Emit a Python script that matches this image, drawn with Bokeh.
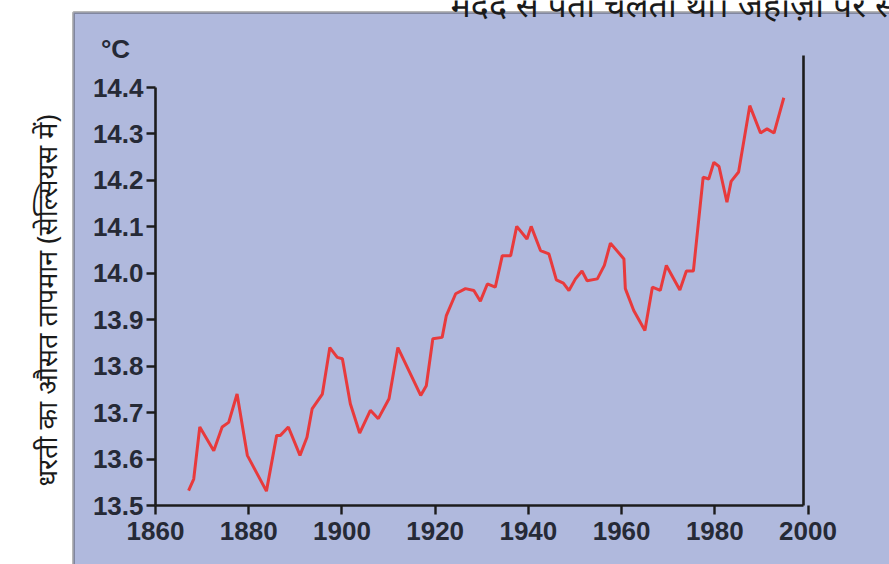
import math
from bokeh.plotting import figure
from bokeh.models import (LinearAxis, FixedTicker, PrintfTickFormatter, Range1d,
                          BoxAnnotation, Label)
from bokeh.embed import file_html
from bokeh.resources import INLINE

# ---------------- data ----------------
years = [1867.1, 1868.2, 1869.5, 1872.5, 1874.3, 1875.7, 1877.5, 1879.7, 1883.8, 1886.0,
         1886.8, 1888.5, 1891.0, 1892.5, 1893.6, 1895.8, 1897.4, 1899.0, 1900.1, 1901.8,
         1903.8, 1906.1, 1907.8, 1910.1, 1912.0, 1916.9, 1918.1, 1919.5, 1921.5, 1922.4,
         1924.4, 1926.5, 1928.3, 1929.7, 1931.2, 1932.9, 1934.4, 1936.2, 1937.5, 1939.7,
         1940.6, 1942.6, 1944.4, 1946.0, 1947.5, 1948.7, 1950.1, 1951.5, 1952.6, 1954.8,
         1956.3, 1957.6, 1960.5, 1960.8, 1962.6, 1965.0, 1966.6, 1968.3, 1969.6, 1972.5,
         1973.9, 1975.4, 1977.5, 1978.7, 1979.8, 1980.9, 1982.6, 1983.5, 1985.1, 1987.5,
         1989.8, 1991.2, 1992.7, 1994.8]
temps = [13.532, 13.557, 13.669, 13.618, 13.669, 13.679, 13.740, 13.608, 13.531, 13.651,
         13.651, 13.669, 13.608, 13.647, 13.708, 13.740, 13.840, 13.819, 13.816, 13.719,
         13.656, 13.705, 13.687, 13.730, 13.840, 13.737, 13.758, 13.859, 13.862, 13.909,
         13.956, 13.967, 13.963, 13.940, 13.977, 13.970, 14.038, 14.038, 14.101, 14.074,
         14.101, 14.049, 14.042, 13.986, 13.979, 13.963, 13.988, 14.005, 13.984, 13.988,
         14.017, 14.065, 14.031, 13.967, 13.920, 13.877, 13.970, 13.963, 14.017, 13.964,
         14.005, 14.005, 14.207, 14.203, 14.239, 14.230, 14.153, 14.198, 14.218, 14.361,
         14.302, 14.311, 14.302, 14.378]
x_ticks = [1860, 1880, 1900, 1920, 1940, 1960, 1980, 2000]
y_ticks = [13.5, 13.6, 13.7, 13.8, 13.9, 14.0, 14.1, 14.2, 14.3, 14.4]
x_axis_span = (1860, 1999)
y_axis_span = (13.5, 14.4)
y_right_span = (13.5, 14.469)
unit_label = "°C"
y_title = "धरती का औसत तापमान (सेल्सियस में)"
top_text = "मदद से पता चलता था। जहाज़ों पर स"

# ---------------- style ----------------
PANEL = "#b0b9dd"
AXIS = "#1c1c1c"
LABEL = "#262a36"
LINE = "#e83a3c"
FONT = "Liberation Sans"
HFONT = "Noto Sans"

W, H = 889, 564
# data area in canvas pixels: 1860 -> x=155, 13.5 -> y=505
PX_YR = 4.661
PX_DEG = 464.4
X0, Y0 = 155, 505
x_range = Range1d(1860 - X0 / PX_YR, 1860 + (W - X0) / PX_YR)
y_range = Range1d(13.5 - (H - Y0) / PX_DEG, 13.5 + Y0 / PX_DEG)

p = figure(width=W, height=H, output_backend="svg", toolbar_location=None,
           x_range=x_range, y_range=y_range,
           x_axis_location=None, y_axis_location=None,
           min_border=0, min_border_left=0, min_border_right=0,
           min_border_top=0, min_border_bottom=0)
p.border_fill_color = "white"
p.background_fill_color = "white"
p.outline_line_color = None
p.grid.visible = False

# lavender panel with black top/left border
panel = BoxAnnotation(left=73, right=W + 20, bottom=-20, top=H - 12,
                      left_units="screen", right_units="screen",
                      top_units="screen", bottom_units="screen",
                      fill_color=PANEL, fill_alpha=1.0,
                      line_color="#111111", line_width=3, level="underlay")
p.add_layout(panel)

p.line(years, temps, line_color=LINE, line_width=3)


def style_axis(ax):
    ax.axis_line_color = AXIS
    ax.axis_line_width = 2.6
    ax.major_tick_line_color = AXIS
    ax.major_tick_line_width = 2.4
    ax.major_tick_in = 0
    ax.major_tick_out = 9
    ax.minor_tick_line_color = None
    ax.major_label_text_font = FONT
    ax.major_label_text_font_style = "bold"
    ax.major_label_text_font_size = "26px"
    ax.major_label_text_color = LABEL
    ax.major_label_standoff = 4


xa = LinearAxis(ticker=FixedTicker(ticks=x_ticks), fixed_location=13.5,
                bounds=x_axis_span)
style_axis(xa)
xa.major_label_standoff = 7
p.add_layout(xa, "below")

ya = LinearAxis(ticker=FixedTicker(ticks=y_ticks), fixed_location=1860,
                bounds=y_axis_span, formatter=PrintfTickFormatter(format="%.1f"))
style_axis(ya)
ya.major_label_standoff = 3
p.add_layout(ya, "left")

ra = LinearAxis(ticker=FixedTicker(ticks=[]), fixed_location=x_axis_span[1],
                bounds=y_right_span)
style_axis(ra)
ra.major_tick_out = 0
p.add_layout(ra, "right")

p.add_layout(Label(x=115, y=H - 48, x_units="screen", y_units="screen",
                   text=unit_label, text_align="center", text_baseline="middle",
                   text_font=FONT, text_font_style="bold", text_font_size="26px",
                   text_color=LABEL))

p.add_layout(Label(x=46, y=H - 300, x_units="screen", y_units="screen",
                   angle=math.pi / 2, text=y_title, text_align="center",
                   text_baseline="middle", text_font=HFONT, text_font_size="27px",
                   text_color="#1a1a1a"))

p.add_layout(Label(x=450, y=H - 3, x_units="screen", y_units="screen",
                   text=top_text, text_align="left", text_baseline="alphabetic",
                   text_font=HFONT, text_font_size="34px", text_color="#1a1a1a"))

open("out.html", "w").write(file_html(p, INLINE))
